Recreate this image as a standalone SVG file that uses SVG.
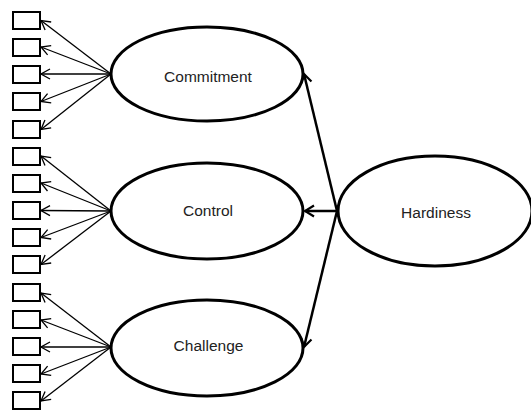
<svg xmlns="http://www.w3.org/2000/svg" width="531" height="410" viewBox="0 0 531 410">
  <style>
    .box { fill: #fff; stroke: #000; stroke-width: 2; }
    .latent { fill: #fff; stroke: #000; stroke-width: 3; }
    .label { font-family: "Liberation Sans", Arial, sans-serif; font-size: 15.5px; fill: #222; text-anchor: middle; }
    .thin { stroke: #000; stroke-width: 1.3; fill: none; marker-end: url(#openSmall); }
    .thick { stroke: #000; stroke-width: 2.5; fill: none; marker-end: url(#openBig); }
  </style>
  <defs>
    <marker id="openSmall" viewBox="0 0 12 12" refX="11" refY="6" markerWidth="12" markerHeight="12" markerUnits="userSpaceOnUse" orient="auto">
      <path d="M2,1 L11,6 L2,11" fill="none" stroke="#000" stroke-width="1.3"/>
    </marker>
    <marker id="openBig" viewBox="0 0 14 14" refX="12" refY="7" markerWidth="14" markerHeight="14" markerUnits="userSpaceOnUse" orient="auto">
      <path d="M3,1.5 L12,7 L3,12.5" fill="none" stroke="#000" stroke-width="2.2"/>
    </marker>
  </defs>

  <!-- indicator connectors -->
  <g id="connectors">
    <line class="thin" x1="111" y1="74" x2="41" y2="20.5"/>
    <line class="thin" x1="111" y1="74" x2="41" y2="47"/>
    <line class="thin" x1="111" y1="74" x2="41" y2="74"/>
    <line class="thin" x1="111" y1="74" x2="41" y2="101.5"/>
    <line class="thin" x1="111" y1="74" x2="41" y2="129.5"/>

    <line class="thin" x1="111" y1="211" x2="41" y2="156"/>
    <line class="thin" x1="111" y1="211" x2="41" y2="183"/>
    <line class="thin" x1="111" y1="211" x2="41" y2="210.5"/>
    <line class="thin" x1="111" y1="211" x2="41" y2="237.5"/>
    <line class="thin" x1="111" y1="211" x2="41" y2="264.5"/>

    <line class="thin" x1="111" y1="347" x2="41" y2="293"/>
    <line class="thin" x1="111" y1="347" x2="41" y2="320"/>
    <line class="thin" x1="111" y1="347" x2="41" y2="347"/>
    <line class="thin" x1="111" y1="347" x2="41" y2="374"/>
    <line class="thin" x1="111" y1="347" x2="41" y2="401"/>

    <!-- structural paths -->
    <line class="thick" x1="337" y1="211" x2="304" y2="74"/>
    <line class="thick" x1="337" y1="211" x2="305" y2="211"/>
    <line class="thick" x1="337" y1="211" x2="304" y2="347"/>
  </g>

  <!-- indicators -->
  <g id="indicators">
    <rect class="box" x="13" y="12" width="27" height="17"/>
    <rect class="box" x="13" y="39" width="27" height="17"/>
    <rect class="box" x="13" y="66" width="27" height="17"/>
    <rect class="box" x="13" y="93" width="27" height="17"/>
    <rect class="box" x="13" y="121" width="27" height="17"/>
    <rect class="box" x="13" y="148" width="27" height="17"/>
    <rect class="box" x="13" y="175" width="27" height="17"/>
    <rect class="box" x="13" y="202" width="27" height="17"/>
    <rect class="box" x="13" y="229" width="27" height="17"/>
    <rect class="box" x="13" y="256" width="27" height="17"/>
    <rect class="box" x="13" y="284" width="27" height="17"/>
    <rect class="box" x="13" y="311" width="27" height="17"/>
    <rect class="box" x="13" y="338" width="27" height="17"/>
    <rect class="box" x="13" y="365" width="27" height="17"/>
    <rect class="box" x="13" y="392" width="27" height="17"/>
  </g>

  <g id="commitment">
    <ellipse class="latent" cx="207" cy="74" rx="96" ry="47"/>
    <text class="label" x="208" y="81.5">Commitment</text>
  </g>
  <g id="control">
    <ellipse class="latent" cx="207" cy="211" rx="96" ry="48"/>
    <text class="label" x="208" y="215.5">Control</text>
  </g>
  <g id="challenge">
    <ellipse class="latent" cx="207" cy="348" rx="96" ry="48"/>
    <text class="label" x="208.5" y="350.5">Challenge</text>
  </g>
  <g id="hardiness">
    <ellipse class="latent" cx="435" cy="211" rx="97" ry="55"/>
    <text class="label" x="436" y="218">Hardiness</text>
  </g>
</svg>
